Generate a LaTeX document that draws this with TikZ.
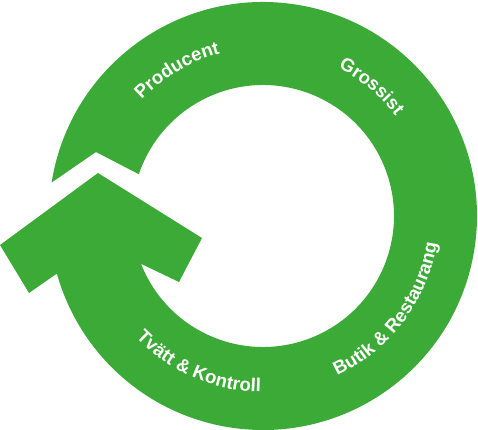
\documentclass[tikz,border=0pt]{standalone}
\usepackage{fontspec}
\setmainfont{Liberation Sans}
\definecolor{CycleGreen}{RGB}{60,170,55}
\usetikzlibrary{decorations.text}

\begin{document}
\begin{tikzpicture}[x=0.02cm,y=0.02cm,
  ringlabel/.style={decorate,decoration={text along path,text align=center,
    text={|\fontsize{10.6}{12}\selectfont\bfseries\color{white}|#1}}}]
  \useasboundingbox (-263,-214) rectangle (215,216);
  % ring: notched tail at top left, chevron head at left
  \fill[CycleGreen] (171:214) arc[start angle=171,end angle=-164.4,radius=214]
    -- (-234,-77) -- (-263,-29) -- (-165,43) -- (-61,-22) -- (-84,-66)
    -- (-158.6:131) arc[start angle=-158.6,end angle=161.4,radius=131]
    -- (-167,64) -- cycle;
  % labels along the ring
  \path[ringlabel=Producent] (155:168) arc[start angle=155,end angle=86,radius=168];
  \path[ringlabel=Grossist] (85:166) arc[start angle=85,end angle=15,radius=166];
  \path[ringlabel={Butik {\&} Restaurang}] (-82:176) arc[start angle=-82,end angle=8,radius=176];
  \path[ringlabel={Tvätt {\&} Kontroll}] (-153:176) arc[start angle=-153,end angle=-74,radius=176];
\end{tikzpicture}
\end{document}
